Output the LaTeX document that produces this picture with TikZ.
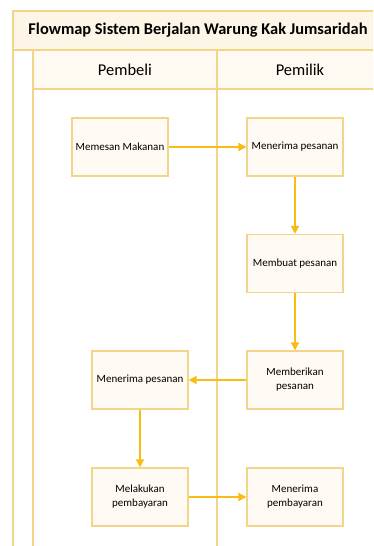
\documentclass[tikz,border=0pt]{standalone}
\usepackage{fontspec}
\setmainfont{Carlito}
\usetikzlibrary{arrows.meta}
\definecolor{laneline}{HTML}{F3D58A}
\definecolor{lanefill}{HTML}{FDF5E6}
\definecolor{boxfill}{HTML}{FFFBF4}
\definecolor{flowarrow}{HTML}{F7BD14}

\begin{document}
\begin{tikzpicture}[x=1pt, y=-1pt,
    lane/.style={draw=laneline, line width=1.3pt},
    proc/.style={rectangle, draw=laneline, line width=1.1pt, fill=boxfill,
      minimum width=96pt, minimum height=58pt, align=center,
      font=\fontsize{11}{14}\selectfont},
    flow/.style={draw=flowarrow, line width=1.4pt, -{Triangle[length=8pt,width=8pt]}}]
  \useasboundingbox (0,0) rectangle (373,546);

  % swimlane frame
  \begin{scope}
    \clip (0,0) rectangle (373,546);
    \fill[lanefill] (13,11) rectangle (383,50);
    \fill[lanefill!55] (33,50) rectangle (383,89);
    \draw[lane] (13,560) -- (13,11) -- (383,11) -- (383,560);
    \draw[lane] (13,50) -- (383,50);
    \draw[lane] (33,50) -- (33,560);
    \draw[lane] (33,89) -- (383,89);
    \draw[lane] (217,50) -- (217,560);
  \end{scope}

  \node[font=\bfseries\fontsize{16.4}{20}\selectfont] (title) at (198,30.5) {Flowmap Sistem Berjalan Warung Kak Jumsaridah};
  \node[font=\fontsize{16.5}{20}\selectfont] (pembeli) at (125,69.5) {Pembeli};
  \node[font=\fontsize{16.5}{20}\selectfont] (pemilik) at (300,69.5) {Pemilik};

  % proses
  \node[proc] (pesan) at (120,147) {Memesan Makanan};
  \node[proc] (terima1) at (295,147) {Menerima pesanan};
  \node[proc] (buat) at (295,263.5) {Membuat pesanan};
  \node[proc] (beri) at (295,380) {Memberikan\\pesanan};
  \node[proc] (terima2) at (140,380) {Menerima pesanan};
  \node[proc] (bayar) at (140,497) {Melakukan\\pembayaran};
  \node[proc] (terimabayar) at (295,497) {Menerima\\pembayaran};

  \draw[flow] (pesan) -- (terima1);
  \draw[flow] (terima1) -- (buat);
  \draw[flow] (buat) -- (beri);
  \draw[flow] (beri) -- (terima2);
  \draw[flow] (terima2) -- (bayar);
  \draw[flow] (bayar) -- (terimabayar);
\end{tikzpicture}
\end{document}
